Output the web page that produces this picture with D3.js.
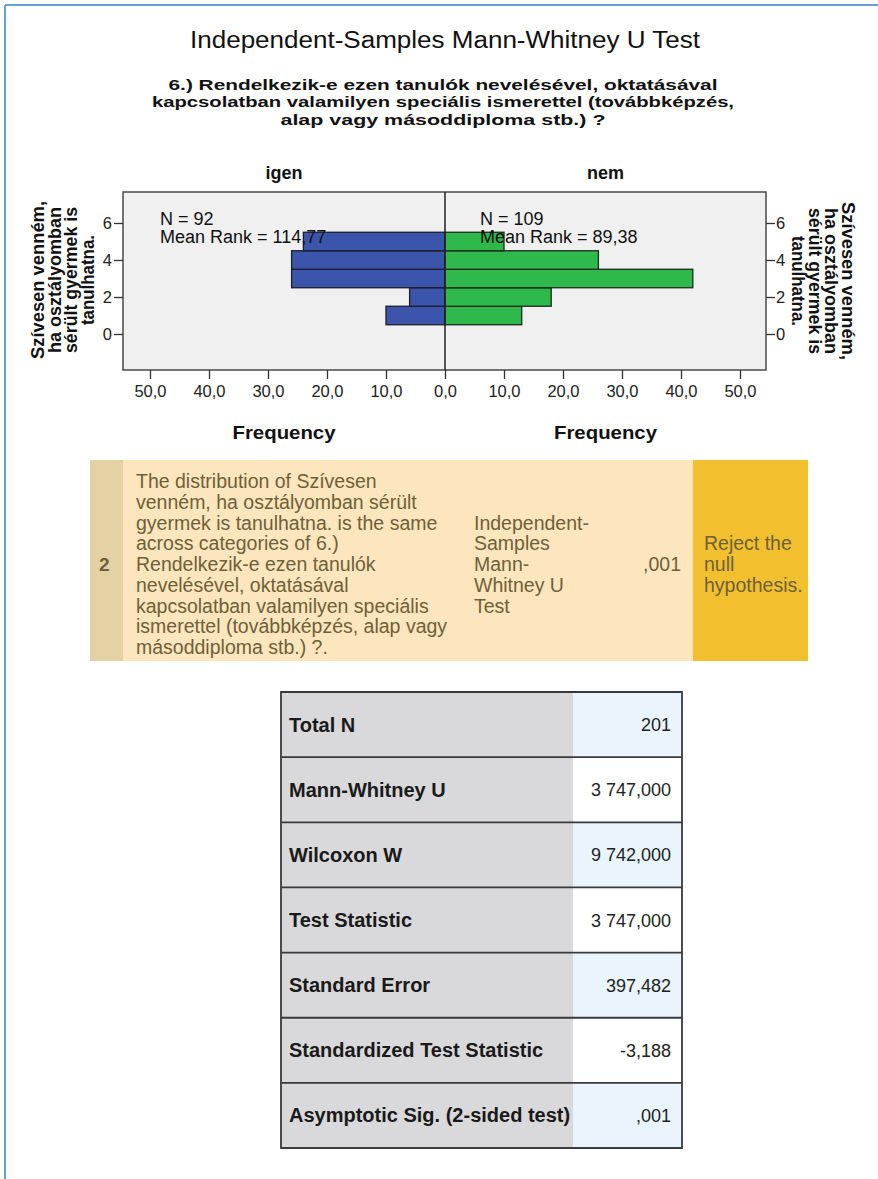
<!DOCTYPE html>
<html>
<head>
<meta charset="utf-8">
<script src="https://cdn.jsdelivr.net/npm/d3@7"></script>
<style>
  html, body { margin: 0; padding: 0; background: #fff; }
  svg { display: block; font-family: "Liberation Sans", Arial, sans-serif; }
</style>
</head>
<body>
<svg id="chart" width="878" height="1179"></svg>
<script>
// ---- data -------------------------------------------------------------
const ratings = [1, 2, 3, 4, 5];
const freqIgen = [10, 6, 26, 26, 24];
const freqNem = [13, 18, 42, 26, 10];
const groupNames = ["igen", "nem"];
const groupN = [92, 109];
const groupMeanRank = ["114,77", "89,38"];
const freqTicks = [0, 10, 20, 30, 40, 50];
const ratingTicks = [0, 2, 4, 6];

const titleText = "Independent-Samples Mann-Whitney U Test";
const questionLines = [
  "6.) Rendelkezik-e ezen tanulók nevelésével, oktatásával",
  "kapcsolatban valamilyen speciális ismerettel (továbbképzés,",
  "alap vagy másoddiploma stb.) ?"
];
const ratingTitleLines = ["Szívesen venném,", "ha osztályomban", "sérült gyermek is", "tanulhatna."];
const freqTitle = "Frequency";

const hypothesisNo = "2";
const hypothesisLines = [
  "The distribution of Szívesen",
  "venném, ha osztályomban sérült",
  "gyermek is tanulhatna. is the same",
  "across categories of 6.)",
  "Rendelkezik-e ezen tanulók",
  "nevelésével, oktatásával",
  "kapcsolatban valamilyen speciális",
  "ismerettel (továbbképzés, alap vagy",
  "másoddiploma stb.) ?."
];
const testLines = ["Independent-", "Samples", "Mann-", "Whitney U", "Test"];
const hypothesisSig = ",001";
const decisionLines = ["Reject the", "null", "hypothesis."];

const statLabels = [
  "Total N", "Mann-Whitney U", "Wilcoxon W", "Test Statistic",
  "Standard Error", "Standardized Test Statistic", "Asymptotic Sig. (2-sided test)"
];
const statValues = ["201", "3 747,000", "9 742,000", "3 747,000", "397,482", "-3,188", ",001"];

// ---- setup ------------------------------------------------------------
const svg = d3.select("#chart");
const fmtFreq = d => d3.format(".1f")(d).replace(".", ",");

// outer frame lines of the output pane
svg.append("line").attr("x1", 5).attr("x2", 878).attr("y1", 5).attr("y2", 5)
  .attr("stroke", "#6a9fd8").attr("stroke-width", 2);
svg.append("line").attr("x1", 5).attr("x2", 5).attr("y1", 5).attr("y2", 1179)
  .attr("stroke", "#6a9fd8").attr("stroke-width", 2);

// titles
svg.append("text").attr("x", 445).attr("y", 48).attr("text-anchor", "middle")
  .attr("font-size", 23.5).attr("fill", "#111")
  .attr("textLength", 510).attr("lengthAdjust", "spacingAndGlyphs")
  .text(titleText);

const qWidths = [549, 582, 325];
svg.append("g").selectAll("text").data(questionLines).join("text")
  .attr("x", 443).attr("y", (d, i) => 90 + i * 17.3)
  .attr("text-anchor", "middle").attr("font-size", 15.5).attr("font-weight", "bold").attr("fill", "#111")
  .attr("textLength", (d, i) => qWidths[i]).attr("lengthAdjust", "spacingAndGlyphs")
  .text(d => d);

// ---- back-to-back histogram ------------------------------------------
const plot = { left: 123, right: 766, top: 192, bottom: 370, cx: 445 };

const xL = d3.scaleLinear().domain([0, 50]).range([plot.cx, plot.cx - 295]);
const xR = d3.scaleLinear().domain([0, 50]).range([plot.cx, plot.cx + 295]);
const y = d3.scaleLinear().domain([0, 6]).range([334, 223]);

svg.append("rect")
  .attr("x", plot.left).attr("y", plot.top)
  .attr("width", plot.right - plot.left).attr("height", plot.bottom - plot.top)
  .attr("fill", "#f0f0f0").attr("stroke", "#4a4a4a").attr("stroke-width", 1.5);

const binData = ratings.map((r, i) => ({ r, igen: freqIgen[i], nem: freqNem[i] }));

svg.append("g").selectAll("rect").data(binData).join("rect")
  .attr("x", d => xL(d.igen)).attr("width", d => xL(0) - xL(d.igen))
  .attr("y", d => y(d.r + 0.5)).attr("height", d => y(d.r - 0.5) - y(d.r + 0.5))
  .attr("fill", "#3b55ad").attr("stroke", "#1c1c2a").attr("stroke-width", 1.3);

svg.append("g").selectAll("rect").data(binData).join("rect")
  .attr("x", xR(0)).attr("width", d => xR(d.nem) - xR(0))
  .attr("y", d => y(d.r + 0.5)).attr("height", d => y(d.r - 0.5) - y(d.r + 0.5))
  .attr("fill", "#2fb84b").attr("stroke", "#1c2a1c").attr("stroke-width", 1.3);

// centre divider
svg.append("line").attr("x1", plot.cx).attr("x2", plot.cx)
  .attr("y1", plot.top).attr("y2", plot.bottom)
  .attr("stroke", "#222").attr("stroke-width", 1.5);

// axes
const styleAxis = g => {
  g.select(".domain").remove();
  g.selectAll(".tick line").attr("stroke", "#333").attr("stroke-width", 1.3);
  g.selectAll(".tick text").attr("fill", "#222").attr("font-size", 16.5)
    .attr("font-family", "Liberation Sans, Arial, sans-serif");
};
svg.append("g").attr("transform", `translate(0,${plot.bottom})`)
  .call(d3.axisBottom(xL).tickValues(freqTicks.filter(t => t > 0)).tickSize(9).tickPadding(6).tickFormat(fmtFreq))
  .call(styleAxis);
svg.append("g").attr("transform", `translate(0,${plot.bottom})`)
  .call(d3.axisBottom(xR).tickValues(freqTicks).tickSize(9).tickPadding(6).tickFormat(fmtFreq))
  .call(styleAxis);

svg.append("g").attr("transform", `translate(${plot.left},0)`)
  .call(d3.axisLeft(y).tickValues(ratingTicks).tickSize(9).tickPadding(2).tickFormat(d3.format("d")))
  .call(styleAxis);
svg.append("g").attr("transform", `translate(${plot.right},0)`)
  .call(d3.axisRight(y).tickValues(ratingTicks).tickSize(9).tickPadding(1).tickFormat(d3.format("d")))
  .call(styleAxis);

// group headers and axis titles
const halfCenters = [(plot.left + plot.cx) / 2, (plot.cx + plot.right) / 2];
svg.append("g").selectAll("text").data(groupNames).join("text")
  .attr("x", (d, i) => halfCenters[i]).attr("y", 179)
  .attr("text-anchor", "middle").attr("font-size", 18).attr("font-weight", "bold").attr("fill", "#111")
  .text(d => d);

svg.append("g").selectAll("text").data(halfCenters).join("text")
  .attr("x", d => d).attr("y", 439)
  .attr("text-anchor", "middle").attr("font-size", 19).attr("font-weight", "bold").attr("fill", "#111")
  .attr("textLength", 103).attr("lengthAdjust", "spacingAndGlyphs")
  .text(freqTitle);

// group statistics inside the plot
const statX = [160, 480];
groupNames.forEach((g, i) => {
  const t = svg.append("text").attr("font-size", 18).attr("fill", "#111");
  t.append("tspan").attr("x", statX[i]).attr("y", 225).text(`N = ${groupN[i]}`);
  t.append("tspan").attr("x", statX[i]).attr("y", 243).text(`Mean Rank = ${groupMeanRank[i]}`);
});

// rotated rating titles on both sides
const ratingLens = [158, 146, 146, 90];
const leftTitle = svg.append("g").attr("transform", "translate(44,280) rotate(-90)");
leftTitle.selectAll("text").data(ratingTitleLines).join("text")
  .attr("x", 0).attr("y", (d, i) => i * 16.7)
  .attr("text-anchor", "middle").attr("font-size", 17.5).attr("font-weight", "bold").attr("fill", "#111")
  .attr("textLength", (d, i) => ratingLens[i]).attr("lengthAdjust", "spacingAndGlyphs")
  .text(d => d);
const rightTitle = svg.append("g").attr("transform", "translate(842,281) rotate(90)");
rightTitle.selectAll("text").data(ratingTitleLines).join("text")
  .attr("x", 0).attr("y", (d, i) => i * 16.7)
  .attr("text-anchor", "middle").attr("font-size", 17.5).attr("font-weight", "bold").attr("fill", "#111")
  .attr("textLength", (d, i) => ratingLens[i]).attr("lengthAdjust", "spacingAndGlyphs")
  .text(d => d);

// ---- hypothesis summary row -------------------------------------------
const hyp = { x0: 90, x1: 808, y0: 460, y1: 661 };
const hypText = "#6e6038";
svg.append("rect").attr("x", hyp.x0).attr("y", hyp.y0)
  .attr("width", hyp.x1 - hyp.x0).attr("height", hyp.y1 - hyp.y0).attr("fill", "#fde6bd");
svg.append("rect").attr("x", hyp.x0).attr("y", hyp.y0)
  .attr("width", 33).attr("height", hyp.y1 - hyp.y0).attr("fill", "#e4d2a4");
svg.append("rect").attr("x", 693).attr("y", hyp.y0)
  .attr("width", hyp.x1 - 693).attr("height", hyp.y1 - hyp.y0).attr("fill", "#f2c02f");

const lineH = 20.75, firstBase = 488;
svg.append("text").attr("x", 99).attr("y", firstBase + 4 * lineH)
  .attr("font-size", 19).attr("font-weight", "bold").attr("fill", hypText).text(hypothesisNo);
svg.append("g").selectAll("text").data(hypothesisLines).join("text")
  .attr("x", 136).attr("y", (d, i) => firstBase + i * lineH)
  .attr("font-size", 19.5).attr("fill", hypText).text(d => d);
svg.append("g").selectAll("text").data(testLines).join("text")
  .attr("x", 474).attr("y", (d, i) => firstBase + (i + 2) * lineH)
  .attr("font-size", 19.5).attr("fill", hypText).text(d => d);
svg.append("text").attr("x", 681).attr("y", firstBase + 4 * lineH).attr("text-anchor", "end")
  .attr("font-size", 19.5).attr("fill", hypText).text(hypothesisSig);
svg.append("g").selectAll("text").data(decisionLines).join("text")
  .attr("x", 704).attr("y", (d, i) => firstBase + (i + 3) * lineH)
  .attr("font-size", 19.5).attr("fill", hypText).text(d => d);

// ---- test statistics table --------------------------------------------
const tbl = { x0: 281, xs: 573, x1: 682, y0: 692, rowH: 65.15 };
const rows = svg.append("g").selectAll("g").data(statLabels).join("g")
  .attr("transform", (d, i) => `translate(0,${tbl.y0 + i * tbl.rowH})`);
rows.append("rect").attr("x", tbl.x0).attr("width", tbl.xs - tbl.x0).attr("height", tbl.rowH).attr("fill", "#d9d9db");
rows.append("rect").attr("x", tbl.xs).attr("width", tbl.x1 - tbl.xs).attr("height", tbl.rowH)
  .attr("fill", (d, i) => i % 2 === 0 ? "#eaf4fd" : "#ffffff");
rows.append("text").attr("x", 289).attr("y", tbl.rowH / 2 + 7)
  .attr("font-size", 20).attr("font-weight", "bold").attr("fill", "#1a1a1a").text(d => d);
rows.append("text").attr("x", 671).attr("y", tbl.rowH / 2 + 6.5).attr("text-anchor", "end")
  .attr("font-size", 18).attr("fill", "#222").text((d, i) => statValues[i]);

svg.append("g").selectAll("line").data(d3.range(statLabels.length + 1)).join("line")
  .attr("x1", tbl.x0).attr("x2", tbl.x1)
  .attr("y1", i => tbl.y0 + i * tbl.rowH).attr("y2", i => tbl.y0 + i * tbl.rowH)
  .attr("stroke", "#3a3a3a").attr("stroke-width", 1.8);
svg.append("rect").attr("x", tbl.x0).attr("y", tbl.y0)
  .attr("width", tbl.x1 - tbl.x0).attr("height", statLabels.length * tbl.rowH)
  .attr("fill", "none").attr("stroke", "#3a3a3a").attr("stroke-width", 1.8);
</script>
</body>
</html>
